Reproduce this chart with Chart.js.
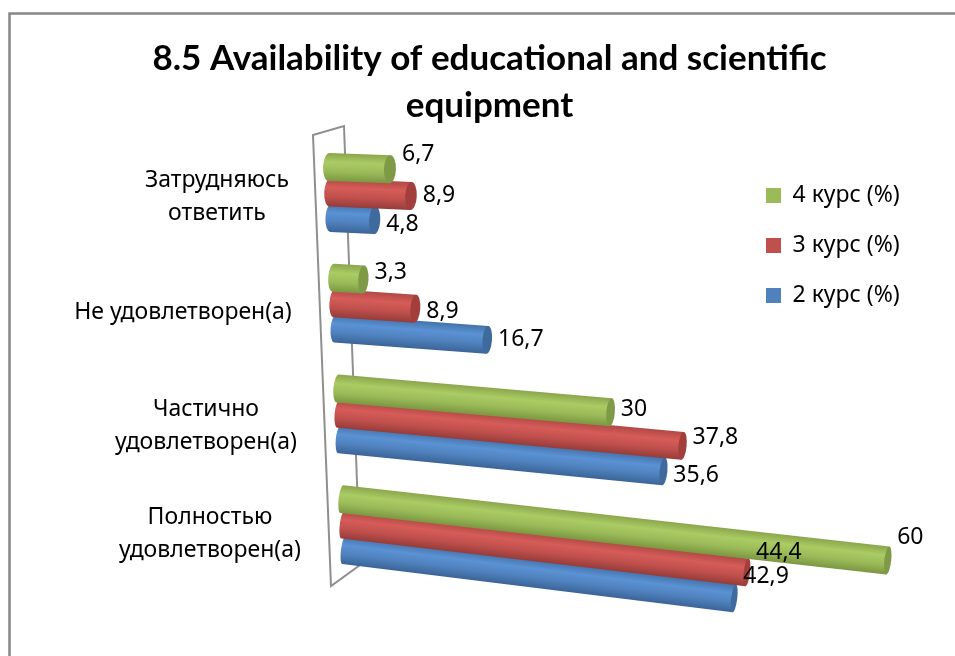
<!DOCTYPE html>
<html>
<head>
<meta charset="utf-8">
<style>
  html, body { margin: 0; padding: 0; background: #fff; }
  #wrap { width: 955px; height: 656px; position: relative; overflow: hidden; }
</style>
</head>
<body>
<div id="wrap"><canvas id="chart_canvas" width="955" height="656"></canvas></div>
<script src="https://cdn.jsdelivr.net/npm/chart.js@4"></script>
<script>
const titulo = ['8.5 Availability of educational and scientific', 'equipment'];
const categorias = [
    ['Затрудняюсь', 'ответить'],
    ['Не удовлетворен(а)'],
    ['Частично', 'удовлетворен(а)'],
    ['Полностью', 'удовлетворен(а)']
];
const nomes = ['4 курс (%)', '3 курс (%)', '2 курс (%)'];
const curso4 = [6.7, 3.3, 30, 60];
const curso3 = [8.9, 8.9, 37.8, 44.4];
const curso2 = [4.8, 16.7, 35.6, 42.9];

const cores = ['#9BBB59', '#C0504D', '#4F81BD'];
const degrade = [
    ['#8aa64c', '#abcb64', '#9bbb59', '#7b9741'],
    ['#b04845', '#d65c58', '#c0504d', '#963c39'],
    ['#4272aa', '#5b92d4', '#4f81bd', '#3b6497']
];
const tampa = ['#7f9a46', '#a23f3c', '#3f6a9e'];

// deslocamento vertical dos rotulos, por serie e categoria
const ajusteRotulo = [
    [-15, -7, -3, -23],
    [0, 3, -8, -20],
    [4, 0, 4, -22]
];
// centro e deslocamento vertical dos nomes de categoria
const centroCategoria = [217, 183, 206, 210];
const ajusteCategoria = [5, 9, 12, 9];

const fonte = '"Noto Sans", sans-serif';
const INCLINA = 0.039;
const PERSP = 0.000225;

function projetar(chart, fx, fy) {
    const x0 = chart.scales.x.getPixelForValue(0);
    return {
        x: fx + (fy - 192) * INCLINA,
        y: fy * (1 + PERSP * (fx - x0))
    };
}

// a tampa do cilindro estreita conforme desce na perspectiva
function raioTampa(fy) {
    return Math.max(3, 7.3 - 0.0078 * fy);
}

function desenharCilindro(ctx, chart, el, i) {
    const h = 28;
    const rx = raioTampa(el.y);
    const a = projetar(chart, el.base, el.y);
    const b = projetar(chart, el.x, el.y);
    const ang = Math.atan2(b.y - a.y, b.x - a.x);
    const len = Math.hypot(b.x - a.x, b.y - a.y);

    ctx.save();
    ctx.translate(a.x, a.y);
    ctx.rotate(ang);
    const g = ctx.createLinearGradient(0, -h / 2, 0, h / 2);
    g.addColorStop(0, degrade[i][0]);
    g.addColorStop(0.32, degrade[i][1]);
    g.addColorStop(0.65, degrade[i][2]);
    g.addColorStop(1, degrade[i][3]);
    ctx.fillStyle = g;
    ctx.beginPath();
    ctx.ellipse(0, 0, rx, h / 2, 0, Math.PI / 2, Math.PI * 1.5);
    ctx.lineTo(len, -h / 2);
    ctx.lineTo(len, h / 2);
    ctx.closePath();
    ctx.fill();
    ctx.fillStyle = tampa[i];
    ctx.beginPath();
    ctx.ellipse(len, 0, rx, h / 2, 0, 0, Math.PI * 2);
    ctx.fill();
    ctx.restore();
}

const cena3d = {
    id: 'cena3d',
    afterLayout(chart) {
        chart.titleBlock.left = 24;
        chart.titleBlock.right = 955;
        chart.legend.left = 739;
        chart.legend.right = 955;
        chart.legend.top = 157;
    },
    beforeDraw(chart) {
        const ctx = chart.ctx;
        ctx.save();
        // moldura
        ctx.strokeStyle = '#868686';
        ctx.lineWidth = 2.5;
        ctx.beginPath();
        ctx.moveTo(9.5, 656);
        ctx.lineTo(9.5, 13.5);
        ctx.lineTo(955, 13.5);
        ctx.stroke();
        // parede do eixo de categorias
        const area = chart.chartArea;
        ctx.strokeStyle = '#8f8f8f';
        ctx.lineWidth = 2;
        ctx.beginPath();
        ctx.moveTo(area.left - 17, area.top - 2);
        ctx.lineTo(area.left + 14, area.top - 11);
        ctx.lineTo(area.left + 30, area.bottom - 15);
        ctx.lineTo(area.left + 1, area.bottom + 6);
        ctx.closePath();
        ctx.stroke();
        ctx.restore();
    },
    beforeDatasetDraw(chart, args) {
        const meta = args.meta;
        meta.data.forEach(function (el) {
            desenharCilindro(chart.ctx, chart, el, args.index);
        });
        return false;
    },
    afterDatasetsDraw(chart) {
        const ctx = chart.ctx;
        ctx.save();
        ctx.fillStyle = '#000';
        ctx.font = '23px ' + fonte;
        ctx.textBaseline = 'middle';
        ctx.textAlign = 'left';
        chart.data.datasets.forEach(function (ds, i) {
            chart.getDatasetMeta(i).data.forEach(function (el, j) {
                const p = projetar(chart, el.x, el.y);
                const txt = String(ds.data[j]).replace('.', ',');
                ctx.fillText(txt, p.x + raioTampa(el.y) + 6, p.y + ajusteRotulo[i][j]);
            });
        });
        // nomes das categorias
        ctx.textAlign = 'center';
        const y = chart.scales.y;
        categorias.forEach(function (linhas, j) {
            const meio = y.getPixelForValue(j) + ajusteCategoria[j];
            linhas.forEach(function (linha, k) {
                const yy = meio + (k - (linhas.length - 1) / 2) * 33;
                ctx.fillText(linha, centroCategoria[j], yy);
            });
        });
        ctx.restore();
    }
};

new Chart(document.getElementById('chart_canvas'), {
    type: 'bar',
    data: {
        labels: categorias,
        datasets: [
            { label: nomes[0], data: curso4, backgroundColor: cores[0] },
            { label: nomes[1], data: curso3, backgroundColor: cores[1] },
            { label: nomes[2], data: curso2, backgroundColor: cores[2] }
        ]
    },
    options: {
        indexAxis: 'y',
        responsive: false,
        animation: false,
        categoryPercentage: 0.69,
        barPercentage: 1,
        layout: {
            padding: { left: 330, right: 61, top: 0, bottom: 76 }
        },
        scales: {
            x: { display: false, min: 0, max: 62 },
            y: { display: false }
        },
        plugins: {
            title: {
                display: true,
                text: titulo,
                color: '#000',
                font: { family: 'Lato', size: 35, weight: 'bold', lineHeight: 1.344 },
                padding: { top: 35, bottom: 8 }
            },
            legend: {
                display: true,
                position: 'chartArea',
                align: 'start',
                labels: {
                    boxWidth: 15,
                    boxHeight: 15,
                    color: '#000',
                    font: { family: '"Noto Sans"', size: 23 },
                    padding: 27
                }
            },
            tooltip: { enabled: false }
        }
    },
    plugins: [cena3d]
});
</script>
</body>
</html>
